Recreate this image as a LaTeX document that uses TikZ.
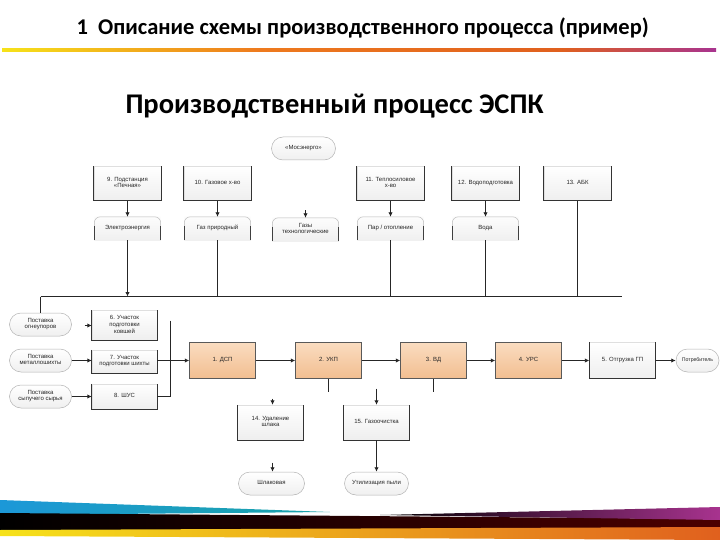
\documentclass[tikz,border=0pt]{standalone}
\usepackage{fontspec}
\setmainfont{Carlito}
\newfontfamily\lab{Liberation Sans}
\usetikzlibrary{shapes.misc,arrows.meta}
\definecolor{oraA}{HTML}{FADCC0}
\definecolor{oraB}{HTML}{F2BE90}
\definecolor{ylw}{HTML}{F6E21A}
\definecolor{org}{HTML}{EE7A1E}
\definecolor{rdo}{HTML}{E0601E}
\definecolor{prp}{HTML}{A8338F}
\definecolor{blu}{HTML}{1C98D8}
\definecolor{tea}{HTML}{1AA3A8}
\tikzset{
  lbl/.style={font=\lab\fontsize{6}{6.8}\selectfont, align=center, text=black!85,
    execute at begin node=\strut, execute at end node=\strut},
  procbox/.style={lbl, minimum width=67pt, minimum height=34pt, inner sep=1pt,
    top color=white, bottom color=gray!13, draw=gray!25, line width=0.4pt},
  mainbox/.style={lbl, minimum width=66pt, minimum height=36pt, inner sep=1pt,
    top color=oraA, bottom color=oraB, draw=black!65, line width=0.5pt},
  card/.style={lbl, minimum width=66pt, minimum height=23pt, inner sep=1pt,
    top color=gray!2, bottom color=gray!12},
  term/.style={lbl, rounded rectangle, minimum width=66pt, minimum height=23pt, inner sep=1pt,
    top color=white, bottom color=gray!12, draw=gray!60, line width=0.5pt},
  con/.style={draw=black!85, line width=1pt},
  arr/.style={con, -{Latex[length=4.5pt,width=4.5pt]}},
  sarr/.style={arr, line width=1.3pt},
}
\begin{document}
\begin{tikzpicture}[x=1pt,y=-1pt]
\useasboundingbox (0,0) rectangle (720,540);
% header
\node[anchor=west, font=\bfseries\fontsize{22.5}{26}\selectfont] (title) at (73,28) {1\ \ Описание схемы производственного процесса (пример)};
\shade[left color=ylw, right color=org] (2,48.5) rectangle (260,51.5);
\shade[left color=org, right color=rdo] (260,48.5) rectangle (560,51.5);
\shade[left color=rdo, right color=prp] (560,48.5) rectangle (716,51.5);
\node[anchor=west, font=\bfseries\fontsize{28.5}{32}\selectfont] (sub) at (122,106) {Производственный процесс ЭСПК};

\begin{scope}[shift={(0.5,0.5)}]
% top row
\node[term] (mos) at (303,148) {«Мосэнерго»};
\node[procbox] (b9) at (127,183) {9. Подстанция\\«Печная»};
\node[procbox] (b10) at (217,183) {10. Газовое х-во};
\node[procbox] (b11) at (390,183) {11. Теплосиловое\\х-во};
\node[procbox] (b12) at (485,183) {12. Водоподготовка};
\node[procbox] (b13) at (577,183) {13. АБК};

% resources
\node[card] (e1) at (127,228) {Электроэнергия};
\node[card] (e2) at (217,228) {Газ природный};
\node[card] (e3) at (305,229) {Газы\\технологические};
\node[card] (e4) at (390,228) {Пар / отопление};
\node[card] (e5) at (485,228) {Вода};
\foreach \n in {e1,e2,e3,e4,e5}
  \draw[gray!55, line width=0.5pt] (\n.south west) [rounded corners=6pt] -- (\n.north west) -- (\n.north east) [sharp corners] -- (\n.south east);
\foreach \n in {e1,e2,e3,e4,e5}
  {\draw[black!75, line width=0.7pt] (\n.south west) -- ++(0,-14);
   \draw[black!75, line width=0.7pt] (\n.south east) -- ++(0,-14);}

% left supplies
\node[term, minimum width=64pt] (p1) at (40,324) {Поставка\\огнеупоров};
\node[term, minimum width=64pt] (p2) at (40,360) {Поставка\\металлошихты};
\node[term, minimum width=64pt] (p3) at (40,396) {Поставка\\сыпучего сырья};

\node[procbox, minimum width=65pt, minimum height=30pt] (b6) at (124,325) {6. Участок\\подготовки\\ковшей};
\node[procbox, minimum width=65pt, minimum height=23pt] (b7) at (124,361) {7. Участок\\подготовки шихты};
\node[procbox, minimum width=65pt, minimum height=25pt] (b8) at (124,396) {8. ШУС};

% main chain
\node[mainbox] (m1) at (222,360) {1. ДСП};
\node[mainbox] (m2) at (328,360) {2. УКП};
\node[mainbox] (m3) at (433,360) {3. ВД};
\node[mainbox] (m4) at (528,360) {4. УРС};
\node[procbox, minimum width=66pt, minimum height=36pt] (m5) at (622,360) {5. Отгрузка ГП};
\node[term, minimum width=44pt, inner sep=0.5pt, font=\lab\fontsize{5.2}{6}\selectfont] (cons) at (697,360) {Потребитель};

% lower branch
\node[procbox, minimum width=66pt, minimum height=35pt] (b14) at (270,422) {14. Удаление\\шлака};
\node[procbox, minimum width=66pt, minimum height=35pt] (b15) at (376,422) {15. Газоочистка};
\node[term, minimum width=68pt] (o14) at (271,483) {Шлаковая};
\node[term, minimum width=66pt] (o15) at (376,483) {Утилизация пыли};

\foreach \n in {b9,b10,b11,b12,b13,b6,b7,b8,m5,b14,b15}
  \draw[black!80, line width=0.8pt] (\n.north west) -- (\n.south west) -- (\n.south east) -- (\n.north east);

% connectors
\path[sarr] (b9.south) -- (e1.north);
\path[sarr] (b10.south) -- (e2.north);
\path[sarr] (b11.south) -- (e4.north);
\path[sarr] (b12.south) -- (e5.north);
\coordinate (g3) at (305,210);
\path[sarr] (g3) -- (e3.north);

\coordinate (busL) at (40,296);
\coordinate (busR) at (621,296);
\path[con] (busL) -- (busR);
\path[arr] (e1.south) -- (e1.south |- busL);
\path[con] (e2.south) -- (e2.south |- busL);
\path[con] (e4.south) -- (e4.south |- busL);
\path[con] (e5.south) -- (e5.south |- busL);
\path[con] (b13.south) -- (b13.south |- busL);
\path[con] (busL) -- (p1.north);

\coordinate (a6) at (84,325);
\path[sarr] (a6) -- (b6.west);
\path[arr] (p2.east) -- (p2.east -| b7.west);
\path[arr] (p3.east) -- (b8.west);

\coordinate (col) at (170,320);
\path[con] (col) -- (col |- b8.east) -- (b8.east);
\path[arr] (b7.east |- m1.west) -- (m1.west);
\path[arr] (m1.east) -- (m2.west);
\path[arr] (m2.east) -- (m3.west);
\path[arr] (m3.east) -- (m4.west);
\path[arr] (m4.east) -- (m5.west);
\path[arr] (m5.east) -- (cons.west);

\path[con] (m2.south) -- ++(0,13);
\path[con] (m3.south) -- ++(0,13);
\coordinate (t14) at (272,398);
\coordinate (t15) at (376,388);
\coordinate (u14) at (272,462);
\path[sarr] (t14) -- (t14 |- b14.north);
\path[arr] (t15) -- (b15.north);
\path[sarr] (u14) -- (u14 |- o14.north);
\path[arr] (b15.south) -- (o15.north);
\end{scope}

% bottom bands
\shade[left color=blu, right color=tea] (0,500) -- (330,512) -- (0,515) -- cycle;
\shade[left color=black, right color=black!70!red] (0,513) -- (720,519) -- (720,529) -- (0,530) -- cycle;
\shade[left color=black, right color=prp] (380,515) -- (720,507) -- (720,520) -- cycle;
\shade[left color=ylw, right color=rdo] (0,530) -- (720,527) -- (720,540) -- (0,536) -- cycle;
\end{tikzpicture}
\end{document}
